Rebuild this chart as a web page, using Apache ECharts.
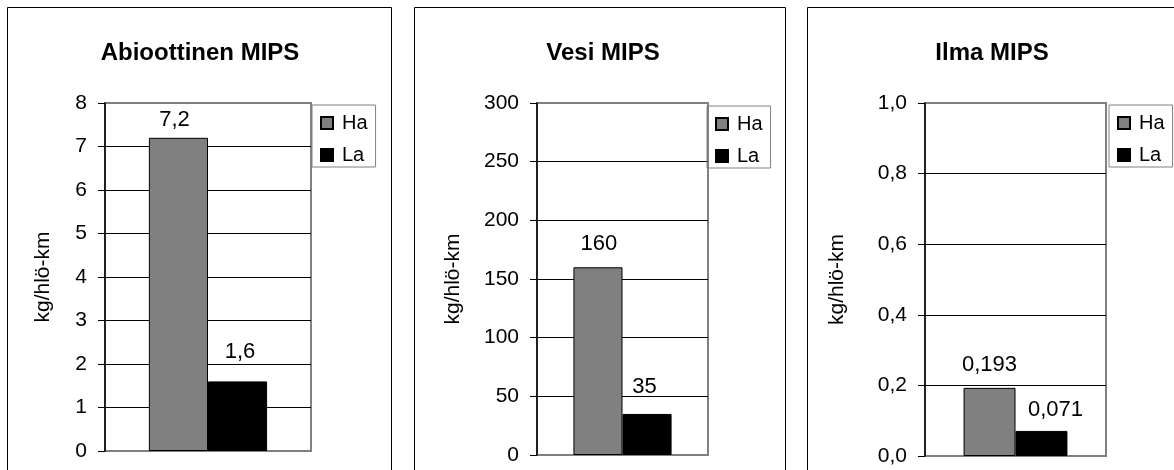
<!DOCTYPE html>
<html>
<head>
<meta charset="utf-8">
<script src="https://cdn.jsdelivr.net/npm/echarts@6/dist/echarts.min.js"></script>
<style>
  html, body { margin: 0; padding: 0; background: #fff; }
  #chart { width: 1174px; height: 470px; }
</style>
</head>
<body>
<div id="chart"></div>
<script>
// Chart content
const panelTitles = ['Abioottinen MIPS', 'Vesi MIPS', 'Ilma MIPS'];
const seriesNames = ['Ha', 'La'];
const haValues = [7.2, 160, 0.193];
const laValues = [1.6, 35, 0.071];
const axisMax = [8, 300, 1.0];
const axisStep = [1, 50, 0.2];
const tickDecimals = [0, 0, 1];
const unitLabel = 'kg/hlö-km';

// Layout of the three panels
const panelFrame = [[7.5, 384], [414.5, 371], [807.5, 380]];   // x, width
const gridRect = [
  { left: 105, top: 103, width: 206, height: 348 },
  { left: 537, top: 103, width: 171, height: 352 },
  { left: 925, top: 103, width: 181, height: 353 }
];
const titleX = [200, 603, 992];
const legendPos = [[312, 105], [707, 106], [1109, 105]];
const unitGap = [51, 73, 77];
// value label nudges: [dx, distance above bar]
const haNudge = [[-4, 7], [1, 12], [0, 12]];
const laNudge = [[2.5, 18], [-2.5, 16], [14, 10]];

const FONT = 'Liberation Sans, Arial, sans-serif';
const decimalComma = v => String(v).replace('.', ',');

const option = {
  animation: false,
  backgroundColor: '#fff',
  textStyle: { fontFamily: FONT },
  grid: [], xAxis: [], yAxis: [], series: [], legend: [], graphic: []
};

for (let i = 0; i < 3; i++) {
  option.graphic.push({
    type: 'rect',
    shape: { x: panelFrame[i][0], y: 7.5, width: panelFrame[i][1], height: 500 },
    style: { fill: 'none', stroke: '#000', lineWidth: 1 },
    silent: true, z: 0
  });
  option.graphic.push({
    type: 'text',
    x: titleX[i], y: 53,
    style: {
      text: panelTitles[i],
      font: 'bold 24px ' + FONT,
      fill: '#000',
      align: 'center', verticalAlign: 'middle',
      textAlign: 'center', textVerticalAlign: 'middle'
    },
    silent: true
  });

  option.grid.push(Object.assign({
    show: true, borderColor: '#808080', borderWidth: 2, backgroundColor: 'transparent'
  }, gridRect[i]));

  option.xAxis.push({
    type: 'category', gridIndex: i, data: [''],
    axisLine: { show: false }, axisTick: { show: false }, axisLabel: { show: false },
    splitLine: { show: false }
  });

  const dec = tickDecimals[i];
  option.yAxis.push({
    type: 'value', gridIndex: i, min: 0, max: axisMax[i], interval: axisStep[i],
    axisLine: { show: true, lineStyle: { color: '#000', width: 1.5 } },
    axisTick: { show: true, inside: false, length: 7, lineStyle: { color: '#000', width: 1 } },
    axisLabel: {
      margin: 18, fontSize: 21, color: '#000', fontFamily: FONT,
      formatter: v => v.toFixed(dec).replace('.', ',')
    },
    splitLine: { show: true, showMinLine: false, showMaxLine: false, lineStyle: { color: '#000', width: 1 } },
    name: unitLabel, nameLocation: 'middle', nameGap: unitGap[i], nameRotate: 90,
    nameTextStyle: { fontSize: 21, color: '#000', fontFamily: FONT }
  });

  const valueLabel = { show: true, position: 'top', fontSize: 22, color: '#000', fontFamily: FONT,
    formatter: p => decimalComma(p.value) };

  option.series.push({
    type: 'bar', name: seriesNames[0], xAxisIndex: i, yAxisIndex: i,
    barWidth: '28.7%', barGap: '0%',
    itemStyle: { color: '#808080', borderColor: '#000', borderWidth: 1 },
    label: valueLabel,
    data: [{ value: haValues[i], label: { distance: haNudge[i][1], offset: [haNudge[i][0], 0] } }]
  });
  option.series.push({
    type: 'bar', name: seriesNames[1], xAxisIndex: i, yAxisIndex: i,
    barWidth: '28.7%', barGap: '0%',
    itemStyle: { color: '#000', borderColor: '#000', borderWidth: 1 },
    label: valueLabel,
    data: [{ value: laValues[i], label: { distance: laNudge[i][1], offset: [laNudge[i][0], 0] } }]
  });

  option.legend.push({
    data: seriesNames, orient: 'vertical',
    left: legendPos[i][0], top: legendPos[i][1],
    icon: 'rect', itemWidth: 12, itemHeight: 12, itemGap: 12,
    borderColor: '#808080', borderWidth: 1, padding: [8, 8, 2, 8],
    textStyle: { fontSize: 20, color: '#000', fontFamily: FONT, padding: [0, 0, 0, 4] }
  });
}

const chart = echarts.init(document.getElementById('chart'), null, { renderer: 'canvas' });
chart.setOption(option);
</script>
</body>
</html>
